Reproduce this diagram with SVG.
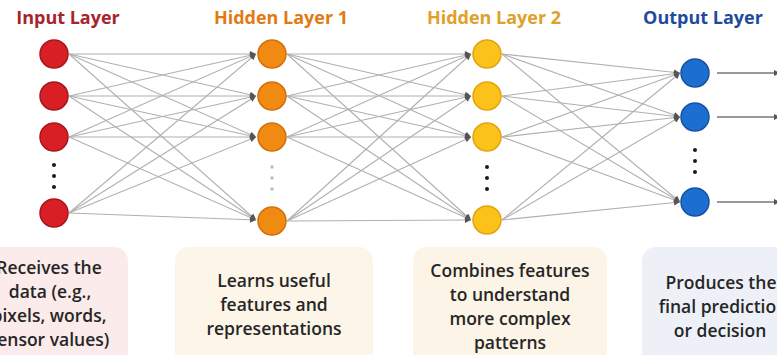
<svg xmlns="http://www.w3.org/2000/svg" width="777" height="355" viewBox="0 0 777 355">
<style>
  .title{font-family:"Open Sans","Liberation Sans",sans-serif;font-weight:700;font-size:18px;text-anchor:middle}
  .desc{font-family:"Open Sans","Liberation Sans",sans-serif;font-weight:600;font-size:17.5px;fill:#262626;text-anchor:middle}
  .conn line{stroke:#b0b0b0;stroke-width:1.1;fill:none}
  .arr{marker-end:url(#ah)}
  .in{fill:#d81f26;stroke:#a8161c;stroke-width:1.5}
  .h1{fill:#f08a12;stroke:#d2700a;stroke-width:1.5}
  .h2{fill:#fbc21c;stroke:#e3a40e;stroke-width:1.5}
  .out{fill:#1c6fd1;stroke:#1653a3;stroke-width:1.5}
  .dot{fill:#1a1a1a}
  .gdot{fill:#bdbdbd}
</style>
<defs>
  <marker id="ah" viewBox="0 0 10 10" refX="10" refY="5" markerWidth="7" markerHeight="6" markerUnits="userSpaceOnUse" orient="auto">
    <path d="M0,0 L10,5 L0,10 Z" fill="#555555"/>
  </marker>
</defs>
<rect width="777" height="355" fill="#ffffff"/>

<!-- description boxes -->
<g id="box-input"><rect x="-20" y="247" width="148" height="130" rx="14" fill="#fcebeb"/>
  <text class="desc" x="49" y="274">Receives the</text>
  <text class="desc" x="50" y="298">data (e.g.,</text>
  <text class="desc" x="49" y="322">pixels, words,</text>
  <text class="desc" x="49" y="346">sensor values)</text>
</g>
<g id="box-hidden1"><rect x="175" y="247" width="198" height="130" rx="14" fill="#fcf5e8"/>
  <text class="desc" x="274" y="287">Learns useful</text>
  <text class="desc" x="274" y="311">features and</text>
  <text class="desc" x="274" y="335">representations</text>
</g>
<g id="box-hidden2"><rect x="413" y="247" width="194" height="130" rx="14" fill="#fcf4e6"/>
  <text class="desc" x="510" y="277">Combines features</text>
  <text class="desc" x="510" y="301">to understand</text>
  <text class="desc" x="510" y="325">more complex</text>
  <text class="desc" x="510" y="349">patterns</text>
</g>
<g id="box-output"><rect x="642" y="247" width="160" height="130" rx="14" fill="#edf1f7"/>
  <text class="desc" x="721" y="289">Produces the</text>
  <text class="desc" x="723" y="313">final prediction</text>
  <text class="desc" x="720" y="337">or decision</text>
</g>

<!-- titles -->
<text class="title" x="68" y="24" fill="#a8232b">Input Layer</text>
<text class="title" x="281" y="24" fill="#e27a12">Hidden Layer 1</text>
<text class="title" x="494" y="24" fill="#e0a12a">Hidden Layer 2</text>
<text class="title" x="703" y="24" fill="#1e4c9a">Output Layer</text>

<g id="connectors" class="conn">
  <!-- input -> hidden1 -->
  <line class="arr" x1="69" y1="54" x2="256" y2="54"/>
  <line class="arr" x1="69" y1="54" x2="256" y2="96"/>
  <line class="arr" x1="69" y1="54" x2="256" y2="137"/>
  <line class="arr" x1="69" y1="54" x2="256" y2="220"/>
  <line class="arr" x1="69" y1="96" x2="256" y2="54"/>
  <line class="arr" x1="69" y1="96" x2="256" y2="96"/>
  <line class="arr" x1="69" y1="96" x2="256" y2="137"/>
  <line class="arr" x1="69" y1="96" x2="256" y2="220"/>
  <line class="arr" x1="69" y1="137" x2="256" y2="54"/>
  <line class="arr" x1="69" y1="137" x2="256" y2="96"/>
  <line class="arr" x1="69" y1="137" x2="256" y2="137"/>
  <line class="arr" x1="69" y1="137" x2="256" y2="220"/>
  <line class="arr" x1="69" y1="213" x2="256" y2="54"/>
  <line class="arr" x1="69" y1="213" x2="256" y2="96"/>
  <line class="arr" x1="69" y1="213" x2="256" y2="137"/>
  <line class="arr" x1="69" y1="213" x2="256" y2="220"/>
  <!-- hidden1 -> hidden2 -->
  <line class="arr" x1="287" y1="54" x2="471" y2="54"/>
  <line class="arr" x1="287" y1="54" x2="471" y2="96"/>
  <line class="arr" x1="287" y1="54" x2="471" y2="137"/>
  <line class="arr" x1="287" y1="54" x2="471" y2="220"/>
  <line class="arr" x1="287" y1="96" x2="471" y2="54"/>
  <line class="arr" x1="287" y1="96" x2="471" y2="96"/>
  <line class="arr" x1="287" y1="96" x2="471" y2="137"/>
  <line class="arr" x1="287" y1="96" x2="471" y2="220"/>
  <line class="arr" x1="287" y1="137" x2="471" y2="54"/>
  <line class="arr" x1="287" y1="137" x2="471" y2="96"/>
  <line class="arr" x1="287" y1="137" x2="471" y2="137"/>
  <line class="arr" x1="287" y1="137" x2="471" y2="220"/>
  <line class="arr" x1="287" y1="221" x2="471" y2="54"/>
  <line class="arr" x1="287" y1="221" x2="471" y2="96"/>
  <line class="arr" x1="287" y1="221" x2="471" y2="137"/>
  <line class="arr" x1="287" y1="221" x2="471" y2="220"/>
  <!-- hidden2 -> output -->
  <line class="arr" x1="502" y1="54" x2="680" y2="73"/>
  <line class="arr" x1="502" y1="54" x2="680" y2="117"/>
  <line class="arr" x1="502" y1="54" x2="680" y2="202"/>
  <line class="arr" x1="502" y1="96" x2="680" y2="73"/>
  <line class="arr" x1="502" y1="96" x2="680" y2="117"/>
  <line class="arr" x1="502" y1="96" x2="680" y2="202"/>
  <line class="arr" x1="502" y1="137" x2="680" y2="73"/>
  <line class="arr" x1="502" y1="137" x2="680" y2="117"/>
  <line class="arr" x1="502" y1="137" x2="680" y2="202"/>
  <line class="arr" x1="502" y1="220" x2="680" y2="73"/>
  <line class="arr" x1="502" y1="220" x2="680" y2="117"/>
  <line class="arr" x1="502" y1="220" x2="680" y2="202"/>
  <!-- outputs -->
  <line class="arr" x1="717" y1="73" x2="780" y2="73" style="stroke:#777;stroke-width:1.4"/>
  <line class="arr" x1="717" y1="117" x2="780" y2="117" style="stroke:#777;stroke-width:1.4"/>
  <line class="arr" x1="717" y1="202" x2="780" y2="202" style="stroke:#777;stroke-width:1.4"/>
</g>

<!-- input layer -->
<g id="in1"><circle class="in" cx="54" cy="54" r="14"/></g>
<g id="in2"><circle class="in" cx="54" cy="96" r="14"/></g>
<g id="in3"><circle class="in" cx="54" cy="137" r="14"/></g>
<g id="in-dots"><circle class="dot" cx="54" cy="165" r="2"/><circle class="dot" cx="54" cy="176" r="2"/><circle class="dot" cx="54" cy="187" r="2"/></g>
<g id="in4"><circle class="in" cx="54" cy="213" r="14"/></g>

<!-- hidden 1 -->
<g id="h1a"><circle class="h1" cx="272" cy="54" r="14"/></g>
<g id="h1b"><circle class="h1" cx="272" cy="96" r="14"/></g>
<g id="h1c"><circle class="h1" cx="272" cy="137" r="14"/></g>
<g id="h1-dots"><circle class="gdot" cx="272" cy="167" r="1.8"/><circle class="gdot" cx="272" cy="178" r="1.8"/><circle class="gdot" cx="272" cy="189" r="1.8"/></g>
<g id="h1d"><circle class="h1" cx="272" cy="221" r="14"/></g>

<!-- hidden 2 -->
<g id="h2a"><circle class="h2" cx="487" cy="54" r="14"/></g>
<g id="h2b"><circle class="h2" cx="487" cy="96" r="14"/></g>
<g id="h2c"><circle class="h2" cx="487" cy="137" r="14"/></g>
<g id="h2-dots"><circle class="dot" cx="487" cy="167" r="2"/><circle class="dot" cx="487" cy="178" r="2"/><circle class="dot" cx="487" cy="189" r="2"/></g>
<g id="h2d"><circle class="h2" cx="487" cy="220" r="14"/></g>

<!-- output -->
<g id="out1"><circle class="out" cx="695" cy="73" r="14"/></g>
<g id="out2"><circle class="out" cx="695" cy="117" r="14"/></g>
<g id="out-dots"><circle class="dot" cx="695" cy="150" r="2"/><circle class="dot" cx="695" cy="161" r="2"/><circle class="dot" cx="695" cy="172" r="2"/></g>
<g id="out3"><circle class="out" cx="695" cy="202" r="14"/></g>
</svg>
